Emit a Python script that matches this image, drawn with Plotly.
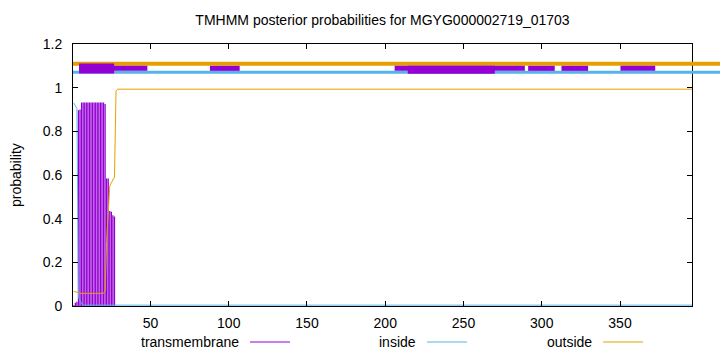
import plotly.graph_objects as go

# ---------------- data ----------------
tm_pos = [1, 2, 3, 4, 5, 6, 7, 8, 9, 10, 11, 12, 13, 14, 15, 16, 17, 18, 19, 20,
          21, 22, 23, 24, 25, 26, 27, 28]
tm_prob = [0.004, 0.015, 0.02, 0.897, 0.9, 0.932, 0.932, 0.932, 0.932, 0.932,
           0.932, 0.932, 0.932, 0.932, 0.932, 0.932, 0.932, 0.932, 0.932, 0.932,
           0.925, 0.584, 0.584, 0.435, 0.432, 0.416, 0.41, 0.0]

inside_pos = [1, 2, 3, 4, 5, 6, 7, 396]
inside_prob = [0.93, 0.92, 0.905, 0.04, 0.025, 0.008, 0.004, 0.004]

outside_pos = [1, 2, 3, 4, 5, 20, 21, 22, 23, 24, 25, 26, 27, 28, 29, 396]
outside_prob = [0.066, 0.066, 0.064, 0.06, 0.058, 0.058, 0.07, 0.3, 0.45, 0.55,
                0.565, 0.58, 0.59, 0.985, 0.993, 0.993]

# predicted topology band at the top
tm_thin_start = [4.4, 88, 206, 291.3, 312.6, 350.3]
tm_thin_end = [48, 107, 289.2, 308.3, 329.6, 372.5]
tm_tall_start = [4.4, 214.4]
tm_tall_end = [26.8, 270]
tm_tall_top = [1.111, 1.100]
tm_tall_bottom = [1.065, 1.064]
band_outside_y = 1.109
band_inside_y = 1.071
band_thin_y = [1.077, 1.100]

x_ticks = [50, 100, 150, 200, 250, 300, 350]
y_ticks = [0, 0.2, 0.4, 0.6, 0.8, 1.0, 1.2]
y_tick_text = ["0", "0.2", "0.4", "0.6", "0.8", "1", "1.2"]
x_range = [0.5, 396]
y_range = [0, 1.2]

title = "TMHMM posterior probabilities for MGYG000002719_01703"
legend_names = ["transmembrane", "inside", "outside"]

PURPLE = "#9400d3"
BLUE = "#56b4e9"
ORANGE = "#e69f00"
FONT = "Liberation Sans, Arial, sans-serif"

# ---------------- figure ----------------
fig = go.Figure()

# transmembrane as impulses
imp_x, imp_y = [], []
for p, v in zip(tm_pos, tm_prob):
    imp_x += [p, p, None]
    imp_y += [0, v, None]
fig.add_trace(go.Scatter(x=imp_x, y=imp_y, mode="lines",
                         line=dict(color=PURPLE, width=1.3), name=legend_names[0],
                         showlegend=False, hoverinfo="skip"))
fig.add_trace(go.Scatter(x=inside_pos, y=inside_prob, mode="lines",
                         line=dict(color=BLUE, width=1), name=legend_names[1],
                         showlegend=False))
fig.add_trace(go.Scatter(x=outside_pos, y=outside_prob, mode="lines",
                         line=dict(color=ORANGE, width=1), name=legend_names[2],
                         showlegend=False))

L, R, T, B = 73, 28, 44, 46
W, H = 720, 352
pw = W - L - R
ph = H - T - B

shapes = []
# outside / inside bands (extend past the right border like gnuplot arrows)
shapes.append(dict(type="line", xref="paper", yref="paper", x0=0, x1=1.06,
                   y0=band_outside_y / y_range[1], y1=band_outside_y / y_range[1],
                   line=dict(color=ORANGE, width=4)))
shapes.append(dict(type="line", xref="paper", yref="paper", x0=0, x1=1.06,
                   y0=band_inside_y / y_range[1], y1=band_inside_y / y_range[1],
                   line=dict(color=BLUE, width=3)))
for s, e in zip(tm_thin_start, tm_thin_end):
    shapes.append(dict(type="rect", xref="x", yref="y", x0=s, x1=e,
                       y0=band_thin_y[0], y1=band_thin_y[1],
                       fillcolor=PURPLE, line=dict(width=0)))
for s, e, t, b in zip(tm_tall_start, tm_tall_end, tm_tall_top, tm_tall_bottom):
    shapes.append(dict(type="rect", xref="x", yref="y", x0=s, x1=e,
                       y0=b, y1=t, fillcolor=PURPLE, line=dict(width=0)))

# legend (gnuplot style: text then line sample), below the x axis
leg_y_px = 342
leg_y = (H - B - leg_y_px) / ph
leg_items = [(legend_names[0], 241, 250, 290, PURPLE),
             (legend_names[1], 417.5, 427, 467, BLUE),
             (legend_names[2], 594, 603, 643, ORANGE)]
annotations = []
for name, txt_r, l0, l1, col in leg_items:
    annotations.append(dict(text=name, xref="paper", yref="paper",
                            x=(txt_r - L) / pw, y=leg_y, xanchor="right",
                            yanchor="middle", showarrow=False,
                            font=dict(family=FONT, size=14, color="black")))
    shapes.append(dict(type="line", xref="paper", yref="paper",
                       x0=(l0 - L) / pw, x1=(l1 - L) / pw, y0=leg_y, y1=leg_y,
                       line=dict(color=col, width=1)))

annotations.append(dict(text="probability", xref="paper", yref="paper",
                        x=(16 - L) / pw, y=(H - B - 175) / ph, xanchor="center",
                        yanchor="middle", textangle=-90, showarrow=False,
                        font=dict(family=FONT, size=14, color="black")))

fig.update_layout(
    width=W, height=H,
    margin=dict(l=L, r=R, t=T, b=B),
    paper_bgcolor="white", plot_bgcolor="white",
    font=dict(family=FONT, size=14, color="black"),
    title=dict(text=title, x=(L + pw / 2) / W, xanchor="center",
               y=1 - 20 / H, yanchor="middle", yref="container",
               font=dict(family=FONT, size=14, color="black")),
    shapes=shapes, annotations=annotations, showlegend=False,
)
fig.update_xaxes(range=x_range, tickvals=x_ticks, ticks="inside", ticklen=5,
                 tickcolor="black", showline=True, linecolor="black",
                 linewidth=1, mirror="ticks", showgrid=False, zeroline=False,
                 ticklabelstandoff=4)
fig.update_yaxes(range=y_range, tickvals=y_ticks, ticktext=y_tick_text,
                 ticks="inside", ticklen=5, tickcolor="black", showline=True,
                 linecolor="black", linewidth=1, mirror="ticks",
                 showgrid=False, zeroline=False, ticklabelstandoff=7)

fig.write_html("out.html")
